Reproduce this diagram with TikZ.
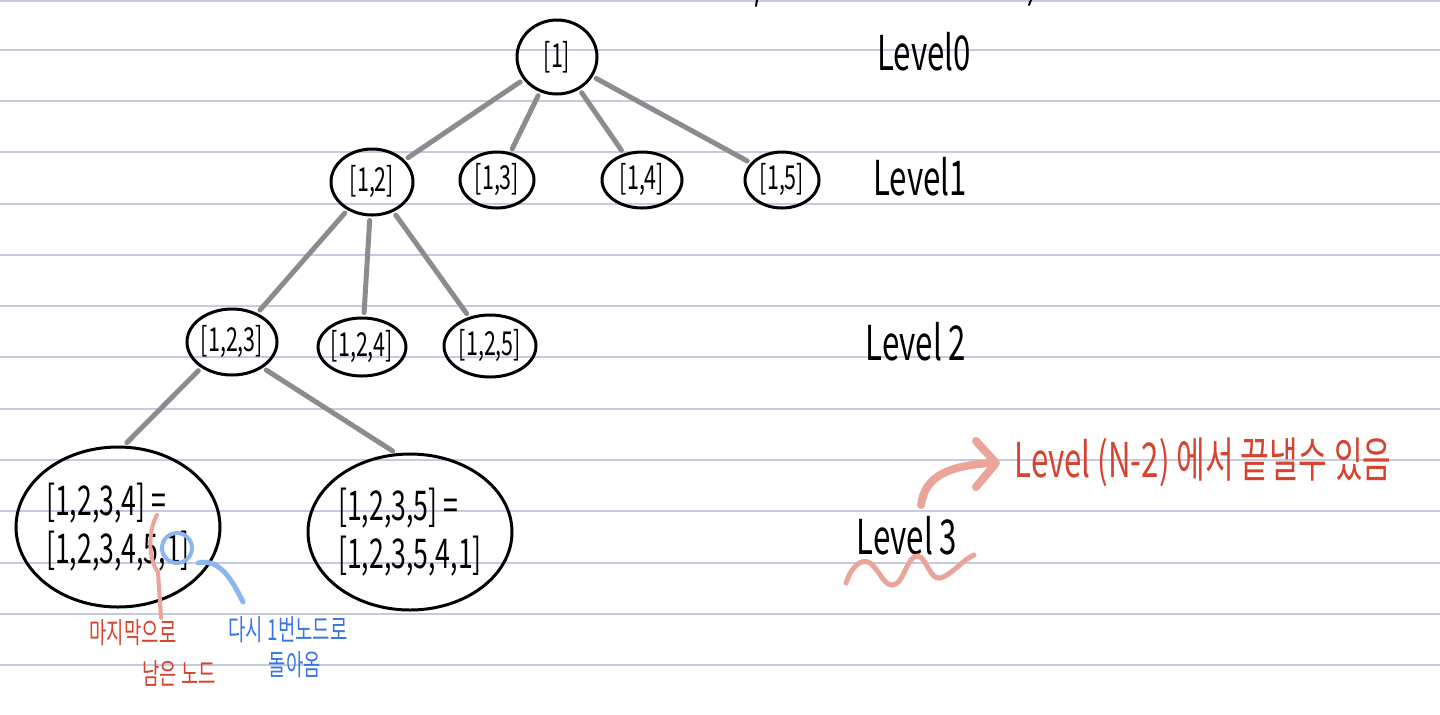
\documentclass[tikz,border=0pt]{standalone}
\usepackage{fontspec}
\setmainfont{Noto Sans CJK KR}[FakeStretch=0.65]
\usetikzlibrary{arrows.meta, positioning, shapes.geometric}
\definecolor{ruleline}{RGB}{198,202,222}
\definecolor{branchgray}{RGB}{140,140,140}
\definecolor{notered}{RGB}{214,68,48}
\definecolor{notepink}{RGB}{234,164,154}
\definecolor{noteblue}{RGB}{58,118,226}
\definecolor{markblue}{RGB}{140,182,240}

\begin{document}
\begin{tikzpicture}[x=0.5pt, y=-0.5pt,
    statenode/.style={ellipse, draw, line width=1.5pt, inner sep=0pt, font=\fontsize{16.5}{18}\selectfont},
    bignode/.style={statenode, align=left, font=\fontsize{20.5}{24}\selectfont},
    branch/.style={draw=branchgray, line width=2.5pt, line cap=round, shorten <=2pt, shorten >=2pt},
    levellabel/.style={inner sep=0pt, font=\fontsize{24}{28}\selectfont},
    rednote/.style={inner sep=0pt, text=notered, align=center, font=\fontsize{14.5}{20}\selectfont},
    bluenote/.style={inner sep=0pt, text=noteblue, align=center, font=\fontsize{14.5}{18}\selectfont}]

  % paper
  \fill[white] (0,0) rectangle (1440,714);
  \useasboundingbox (0,0) rectangle (1440,714);
  \draw[ruleline, line width=1pt] (0,1) -- (1440,1);
  \foreach \k in {-8,...,4}
    \draw[ruleline, line width=1pt] (0,{460+51.3*\k}) -- (1440,{460+51.3*\k});
  \draw[line width=1pt, line cap=round] (757,0) -- (756,6);
  \draw[line width=1pt, line cap=round] (1031,0) -- (1029,5);

  % tree
  \node[statenode, minimum width=40pt, minimum height=37pt] (r) at (557,57) {[1]};

  \node[statenode, minimum width=41pt, minimum height=33pt] (n12) at (372,182) {[1,2]};
  \node[statenode, minimum width=37pt, minimum height=28pt] (n13) at (497,180) {[1,3]};
  \node[statenode, minimum width=40pt, minimum height=28pt] (n14) at (642,180) {[1,4]};
  \node[statenode, minimum width=37pt, minimum height=28pt] (n15) at (782,180) {[1,5]};

  \node[statenode, minimum width=45pt, minimum height=33pt] (n123) at (232,342) {[1,2,3]};
  \node[statenode, minimum width=43pt, minimum height=29pt] (n124) at (362,347) {[1,2,4]};
  \node[statenode, minimum width=46pt, minimum height=31pt] (n125) at (490,346) {[1,2,5]};

  \node[bignode, minimum width=102pt, minimum height=80pt] (n1234) at (118,527) {[1,2,3,4] =\\{}[1,2,3,4,5,1]};
  \node[bignode, minimum width=102pt, minimum height=78pt] (n1235) at (410,532) {[1,2,3,5] =\\{}[1,2,3,5,4,1]};

  \draw[branch] (r) -- (n12);
  \draw[branch] (r) -- (n13);
  \draw[branch] (r) -- (n14);
  \draw[branch] (r) -- (n15);
  \draw[branch] (n12) -- (n123);
  \draw[branch] (n12) -- (n124);
  \draw[branch] (n12) -- (n125);
  \draw[branch] (n123.220) -- ([xshift=3pt]n1234.north);
  \draw[branch] (n123.320) -- (n1235.100);

  % levels
  \node[levellabel] (l0) at (924,52) {Level0};
  \node[levellabel] (l1) at (920,177) {Level1};
  \node[levellabel] (l2) at (916,342) {Level 2};
  \node[levellabel] (l3) at (907,536) {Level 3};

  % notes
  \node[inner sep=0pt, text=notered, font=\fontsize{24}{28}\selectfont] (endnote) at (1203,462) {Level (N-2) 에서 끝낼수 있음};
  \draw[notepink, line width=4pt, line cap=round] (921,505) .. controls (925,475) and (950,466) .. (990,463);
  \draw[notepink, line width=4pt, line cap=round, line join=round] (976,441) -- (996,463) -- (976,487);
  \draw[notepink, line width=2.5pt, line cap=round]
    (846,583) .. controls (852,565) and (862,558) .. (870,563)
    .. controls (880,570) and (885,590) .. (896,584)
    .. controls (905,578) and (908,555) .. (918,556)
    .. controls (926,557) and (930,580) .. (940,578)
    .. controls (952,575) and (962,560) .. (974,555);

  \draw[notepink, line width=2pt, line cap=round]
    (157,515) .. controls (148,530) and (148,560) .. (158,572) -- (161,618);
  \draw[markblue, line width=2pt] (177,548) circle[radius=7.5pt];
  \draw[markblue, line width=2.5pt, line cap=round] (198,563) .. controls (220,558) and (232,580) .. (243,602);

  \node[rednote] (lastnote) at (133,633) {마지막으로};
  \node[rednote] (lastnote2) at (179,673) {남은 노드};
  \node[bluenote] (backnote) at (288,630) {다시 1번노드로};
  \node[bluenote] (backnote2) at (295,665) {돌아옴};
\end{tikzpicture}
\end{document}
